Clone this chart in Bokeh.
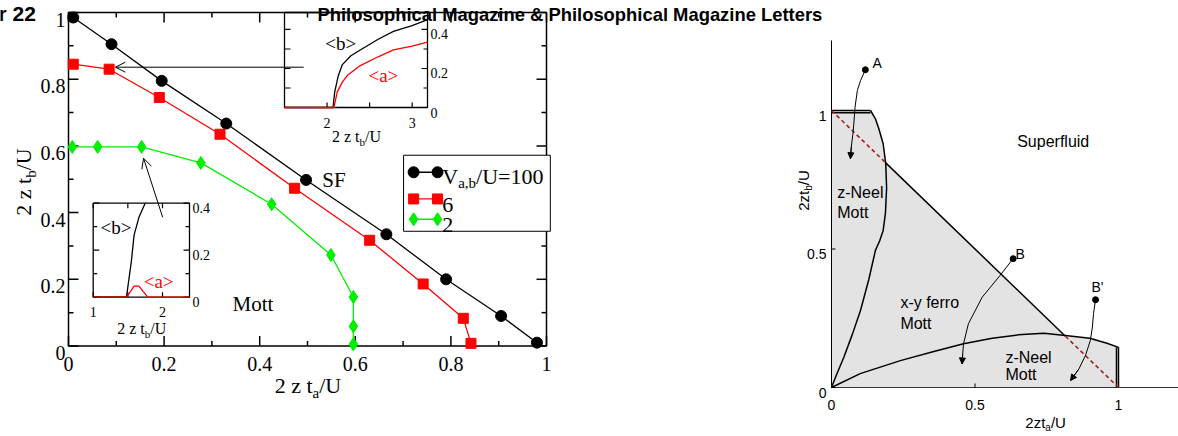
from bokeh.plotting import figure
from bokeh.models import Range1d, Label, Arrow, OpenHead, NormalHead
from bokeh.core.properties import value
from bokeh.embed import file_html
from bokeh.resources import INLINE

# ---------------- data: left panel (phase boundaries) ----------------
ta_100 = [0.01, 0.09, 0.195, 0.33, 0.497, 0.665, 0.79, 0.905, 0.98]
tb_100 = [0.985, 0.905, 0.795, 0.667, 0.498, 0.335, 0.2, 0.09, 0.01]
ta_6 = [0.01, 0.085, 0.19, 0.317, 0.473, 0.63, 0.742, 0.826, 0.842]
tb_6 = [0.845, 0.83, 0.745, 0.635, 0.473, 0.317, 0.186, 0.083, 0.008]
ta_2 = [0.008, 0.061, 0.153, 0.277, 0.425, 0.549, 0.596, 0.596, 0.596]
tb_2 = [0.597, 0.597, 0.597, 0.549, 0.425, 0.273, 0.147, 0.059, 0.005]
main_ticks = [0, 0.2, 0.4, 0.6, 0.8, 1]
main_tick_labels = ["0", "0.2", "0.4", "0.6", "0.8", "1"]
main_minor = [0.1, 0.3, 0.5, 0.7, 0.9]
legend_labels = ["100", "6", "2"]

# inset 1 (V=6): order parameters vs 2 z t_b/U
in1_xb = [1.5, 2.07, 2.09, 2.13, 2.18, 2.28, 2.39, 2.6, 2.78, 3.0, 3.18]
in1_b = [0, 0, 0.08, 0.16, 0.22, 0.265, 0.295, 0.35, 0.39, 0.42, 0.45]
in1_xa = [1.5, 2.08, 2.12, 2.18, 2.24, 2.39, 2.6, 2.78, 3.0, 3.18]
in1_a = [0, 0, 0.08, 0.13, 0.165, 0.215, 0.26, 0.295, 0.315, 0.335]
in1_xticks, in1_xlabels, in1_xminor = [2, 3], ["2", "3"], [2.5]
# inset 2 (V=2)
in2_xb = [1.0, 1.48, 1.55, 1.59, 1.66, 1.75]
in2_b = [0, 0, 0.15, 0.264, 0.34, 0.4]
in2_xa = [1.0, 1.48, 1.54, 1.59, 1.66, 1.72, 1.79, 2.39]
in2_a = [0, 0, 0.025, 0.047, 0.047, 0.025, 0, 0]
in2_xticks, in2_xlabels, in2_xminor = [1, 2], ["1", "2"], [1.5]
inset_yticks, inset_ylabels, inset_yminor = [0, 0.2, 0.4], ["0", "0.2", "0.4"], [0.1, 0.3]

# ---------------- data: right panel (schematic phase diagram) ----------------
fill_x = [0, 0, 0.136, 0.153, 0.165, 0.18, 0.189, 0.815, 0.9, 0.96, 1.0, 1.0]
fill_y = [0, 1.0, 1.0, 0.97, 0.934, 0.88, 0.811, 0.185, 0.178, 0.16, 0.145, 0]
left_x = [0, 0.015, 0.043, 0.072, 0.101, 0.13, 0.153, 0.168, 0.18, 0.188, 0.192, 0.189, 0.18, 0.165, 0.153, 0.136]
left_y = [0, 0.04, 0.109, 0.19, 0.278, 0.39, 0.495, 0.53, 0.567, 0.63, 0.72, 0.807, 0.88, 0.934, 0.97, 1.0]
low_x = [0, 0.1, 0.24, 0.35, 0.46, 0.56, 0.65, 0.74, 0.815, 0.9, 0.96, 1.0]
low_y = [0, 0.05, 0.097, 0.128, 0.158, 0.178, 0.19, 0.196, 0.188, 0.178, 0.16, 0.145]
diag_x, diag_y = [0.189, 0.815], [0.811, 0.185]
dash1_x, dash1_y = [0, 0.189], [1.0, 0.811]
dash2_x, dash2_y = [0.815, 1.0], [0.185, 0]
top_x, top_y1, top_y2 = [0, 0.136], [1.0, 1.0], [0.992, 0.992]
edge_y, edge_x1, edge_x2 = [0, 0.145], [1.0, 1.0], [0.993, 0.993]
pt_names = ["A", "B", "B'"]
pt_x = [0.118, 0.633, 0.92]
pt_y = [1.147, 0.465, 0.317]
arrA_x = [0.118, 0.101, 0.09, 0.082, 0.076, 0.069, 0.066]
arrA_y = [1.147, 1.108, 1.072, 1.012, 0.928, 0.868, 0.826]
arrB_x = [0.633, 0.61, 0.587, 0.525, 0.477, 0.46, 0.457, 0.455]
arrB_y = [0.465, 0.435, 0.404, 0.326, 0.23, 0.158, 0.12, 0.085]
arrC_x = [0.92, 0.913, 0.909, 0.902, 0.885, 0.862, 0.833]
arrC_y = [0.317, 0.267, 0.218, 0.17, 0.116, 0.067, 0.025]
right_ticks, right_tick_labels = [0, 0.5, 1], ["0", "0.5", "1"]
RX_MAX, RY_MAX = 1.209, 1.2527  # extent of the right panel's axes

# ---------------- layout (page pixels of each panel's calibration) ----------------
CANVAS_X = (0, 1178)   # page x of canvas left / right
CANVAS_Y = (436, 0)    # page y of canvas bottom / top
PANELS = {
    "default": dict(px=(68, 546), py=(345.5, 12), x=(0, 1), y=(0, 1)),
    "i1": dict(px=(284, 427), py=(107, 12), x=(1.5, 3.18), y=(0, 0.487)),
    "i2": dict(px=(92.7, 189), py=(296.7, 202.7), x=(1.0, 2.39), y=(0, 0.4)),
    "r": dict(px=(831, 1118), py=(387, 110), x=(0, 1), y=(0, 1)),
}


def prange(pg, d, c):
    k = (d[1] - d[0]) / (pg[1] - pg[0])
    return Range1d(d[0] + (c[0] - pg[0]) * k, d[0] + (c[1] - pg[0]) * k)


def kx(n):
    P = PANELS[n]
    return (P["px"][1] - P["px"][0]) / (P["x"][1] - P["x"][0])


def ky(n):
    P = PANELS[n]
    return (P["py"][0] - P["py"][1]) / (P["y"][1] - P["y"][0])


SERIF = "Liberation Serif"
SANS = "Liberation Sans"
TIMES_W = {'2': .5, ' ': .25, 'z': .444, 't': .278, '/': .278, 'U': .722, 'a': .444,
           'b': .5, ',': .25, 'V': .722, '=': .564, '1': .5, '0': .5}
ARIAL_W = {'2': .556, ' ': .278, 'z': .5, 't': .278, '/': .278, 'U': .722, 'a': .556, 'b': .556}


def rn(n):
    return dict(x_range_name=n, y_range_name=n)


def twidth(s, size, table):
    return sum(table.get(c, .55) for c in s) * size


def rich(fig, n, x, y, parts, font, size, table, angle=0.0, center=True, color="black"):
    sub = round(size * 0.68)
    widths = [twidth(t, sub if s else size, table) for t, s in parts]
    pos = -sum(widths) / 2 if center else 0
    for (t, s), w in zip(parts, widths):
        drop = size * 0.32 if s else 0
        xo, yo = (pos, -drop) if angle == 0 else (drop, pos)
        fig.add_layout(Label(x=x, y=y, x_offset=xo, y_offset=yo, text=t, text_font=font,
                             text_font_size=f"{sub if s else size}px", text_color=color,
                             angle=angle, text_align="left", text_baseline="alphabetic", **rn(n)))
        pos += w


def lab(fig, n, x, y, text, font, size, color="black", dx=0, dy=0, style="normal"):
    fig.add_layout(Label(x=x, y=y, x_offset=dx, y_offset=dy, text=text, text_font=font,
                         text_font_size=f"{size}px", text_color=color, text_font_style=style,
                         text_align="left", text_baseline="alphabetic", **rn(n)))


def ticks(fig, n, side, vals, length, lw):
    if not vals or length == 0:
        return
    P = PANELS[n]
    m = len(vals)
    if side in ("bottom", "top"):
        base = P["y"][0] if side == "bottom" else P["y"][1]
        d = length / ky(n) * (1 if side == "bottom" else -1)
        fig.segment(x0=vals, y0=[base] * m, x1=vals, y1=[base + d] * m,
                    line_color="black", line_width=lw, **rn(n))
    else:
        base = P["x"][0] if side == "left" else P["x"][1]
        d = length / kx(n) * (1 if side == "left" else -1)
        fig.segment(x0=[base] * m, y0=vals, x1=[base + d] * m, y1=vals,
                    line_color="black", line_width=lw, **rn(n))


def tick_text(fig, n, xs, ys, labels, font, size, align, dx, dy):
    fig.text(x=xs, y=ys, text=labels, text_align=align, text_baseline="alphabetic",
             x_offset=dx, y_offset=dy, text_font=value(font), text_font_size=value(f"{size}px"),
             text_color="black", **rn(n))


def frame_box(fig, n, lw):
    P = PANELS[n]
    fig.quad(left=P["x"][0], right=P["x"][1], bottom=P["y"][0], top=P["y"][1],
             fill_color=None, line_color="black", line_width=lw, **rn(n))


m = PANELS["default"]
p = figure(width=CANVAS_X[1] - CANVAS_X[0], height=CANVAS_Y[0] - CANVAS_Y[1],
           x_range=prange(m["px"], m["x"], CANVAS_X), y_range=prange(m["py"], m["y"], CANVAS_Y),
           x_axis_type=None, y_axis_type=None, min_border=0, outline_line_color=None,
           output_backend="svg", toolbar_location=None)
p.grid.visible = False
for name in ("i1", "i2", "r"):
    P = PANELS[name]
    p.extra_x_ranges[name] = prange(P["px"], P["x"], CANVAS_X)
    p.extra_y_ranges[name] = prange(P["py"], P["y"], CANVAS_Y)

# ======================= main left panel =======================
frame_box(p, "default", 1.5)
for side in ("bottom", "top", "left", "right"):
    ticks(p, "default", side, main_ticks, 10, 1.5)
    ticks(p, "default", side, main_minor, 5, 1.5)
tick_text(p, "default", main_ticks, [0] * 6, main_tick_labels, SERIF, 20, "center", 0, 17.5)
tick_text(p, "default", [0] * 6, main_ticks, main_tick_labels, SERIF, 20, "right", -3, 7)

series = [(ta_100, tb_100, "black", "circle", 11),
          (ta_6, tb_6, "#ff0000", "square", 10),
          (ta_2, tb_2, "#00ee00", "diamond", 13)]
for xs, ys, c, mk, s in series:
    p.line(xs, ys, line_color=c, line_width=1.3)
    p.scatter(xs, ys, marker=mk, size=s, fill_color=c, line_color=c)

lab(p, "default", 0.531, 0.497, "SF", SERIF, 21)
lab(p, "default", 0.343, 0.125, "Mott", SERIF, 21)

# legend
p.quad(left=0.701, right=1.008, top=0.572, bottom=0.344, fill_color="white",
       line_color="black", line_width=1)
leg_y = [0.521, 0.441, 0.38]
leg_base = [0.509, 0.422, 0.362]
for (xs, ys, c, mk, s), ly, lb, txt in zip(series, leg_y, leg_base, legend_labels):
    p.line([0.722, 0.772], [ly, ly], line_color=c, line_width=1.3)
    p.scatter([0.722, 0.772], [ly, ly], marker=mk, size=s, fill_color=c, line_color=c)
    if txt == legend_labels[0]:
        rich(p, "default", 0.782, lb, [("V", False), ("a,b", True), ("/U=" + txt, False)],
             SERIF, 22, TIMES_W, center=False)
    else:
        lab(p, "default", 0.782, lb, txt, SERIF, 22)

rich(p, "default", 0.501, -0.1184, [("2 z t", False), ("a", True), ("/U", False)], SERIF, 22, TIMES_W)
rich(p, "default", -0.0941, 0.4918, [("2 z t", False), ("b", True), ("/U", False)], SERIF, 22,
     TIMES_W, angle=1.5707963)

# page header (cropped journal running head)
lab(p, "default", 0, 1, "r 22", SANS, 21, dx=-70, dy=-1, style="bold")
lab(p, "default", 0, 1, "Philosophical Magazine & Philosophical Magazine Letters", SANS, 18.4,
    dx=249, dy=-2, style="bold")

# ======================= insets =======================
frame_box(p, "i1", 1.3)
ticks(p, "i1", "left", inset_yticks + inset_yminor, 6, 1.2)
ticks(p, "i1", "right", inset_yticks, 6, 1.2)
ticks(p, "i1", "right", inset_yminor, 4, 1.2)
ticks(p, "i1", "bottom", in1_xticks + in1_xminor, 5, 1.2)
tick_text(p, "i1", [PANELS["i1"]["x"][1]] * 3, inset_yticks, inset_ylabels, SERIF, 14, "left", 3, 5)
tick_text(p, "i1", in1_xticks, [0, 0], in1_xlabels, SERIF, 14, "center", 0, 15)
p.line(in1_xb, in1_b, line_color="black", line_width=1.3, **rn("i1"))
p.line(in1_xa, in1_a, line_color="#ff0000", line_width=1.3, **rn("i1"))
lab(p, "i1", 1.98, 0.328, "<b>", SERIF, 19)
lab(p, "i1", 2.486, 0.164, "<a>", SERIF, 19, color="#ff0000")
rich(p, "i1", 2.345, -0.149, [("2 z t", False), ("b", True), ("/U", False)], SERIF, 16, TIMES_W)

frame_box(p, "i2", 1.3)
for side in ("left", "right"):
    ticks(p, "i2", side, inset_yticks, 6, 1.2)
    ticks(p, "i2", side, inset_yminor, 4, 1.2)
for side in ("bottom", "top"):
    ticks(p, "i2", side, in2_xticks + in2_xminor, 5, 1.2)
tick_text(p, "i2", [PANELS["i2"]["x"][1]] * 3, inset_yticks, inset_ylabels, SERIF, 14, "left", 3, 5)
tick_text(p, "i2", in2_xticks, [0, 0], in2_xlabels, SERIF, 14, "center", 0, 15)
p.line(in2_xb, in2_b, line_color="black", line_width=1.3, **rn("i2"))
p.line(in2_xa, in2_a, line_color="#ff0000", line_width=1.3, **rn("i2"))
lab(p, "i2", 1.106, 0.297, "<b>", SERIF, 19)
lab(p, "i2", 1.729, 0.067, "<a>", SERIF, 19, color="#ff0000")
rich(p, "i2", 1.70, -0.133, [("2 z t", False), ("b", True), ("/U", False)], SERIF, 16, TIMES_W)

# arrows from insets to the curves
p.add_layout(Arrow(end=OpenHead(size=10, line_width=1), x_start=0.492, y_start=0.836,
                   x_end=0.098, y_end=0.836, line_width=1))
p.add_layout(Arrow(end=OpenHead(size=10, line_width=1), x_start=0.197, y_start=0.386,
                   x_end=0.157, y_end=0.563, line_width=1))

# ======================= right panel =======================
R = rn("r")
p.patch(fill_x, fill_y, fill_color="#e3e3e3", line_color=None, **R)
p.line([0, 0], [0, RY_MAX], line_color="black", line_width=1, **R)
p.line([0, RX_MAX], [0, 0], line_color="#333333", line_width=1.2, **R)
ticks(p, "r", "left", right_ticks, 4, 1)
ticks(p, "r", "bottom", right_ticks, 4, 1)
tick_text(p, "r", [0] * 3, right_ticks, right_tick_labels, SANS, 14, "right", -5, 5)
tick_text(p, "r", right_ticks, [0] * 3, right_tick_labels, SANS, 14, "center", 0, 17)
for xs, ys in [(left_x, left_y), (low_x, low_y), (diag_x, diag_y), (top_x, top_y1),
               (top_x, top_y2), (edge_x1, edge_y), (edge_x2, edge_y)]:
    p.line(xs, ys, line_color="black", line_width=1.5, **R)
for xs, ys in [(dash1_x, dash1_y), (dash2_x, dash2_y)]:
    p.line(xs, ys, line_color="#a82020", line_width=1.6, line_dash="4 3", **R)
for xs, ys in [(arrA_x, arrA_y), (arrB_x, arrB_y), (arrC_x, arrC_y)]:
    p.line(xs, ys, line_color="black", line_width=1, **R)
    p.add_layout(Arrow(end=NormalHead(size=6, fill_color="black", line_color="black"),
                       x_start=xs[-2], y_start=ys[-2], x_end=xs[-1], y_end=ys[-1],
                       line_width=1, x_range_name="r", y_range_name="r"))
p.scatter(pt_x, pt_y, size=6, color="black", **R)
for name, lx, ly in zip(pt_names, [0.143, 0.641, 0.906], [1.17, 0.483, 0.362]):
    lab(p, "r", lx, ly, name, SANS, 14)

lab(p, "r", 0.647, 0.888, "Superfluid", SANS, 16)
lab(p, "r", 0.02, 0.705, "z-Neel", SANS, 16)
lab(p, "r", 0.02, 0.633, "Mott", SANS, 16)
lab(p, "r", 0.24, 0.307, "x-y ferro", SANS, 16)
lab(p, "r", 0.24, 0.232, "Mott", SANS, 16)
lab(p, "r", 0.606, 0.109, "z-Neel", SANS, 16)
lab(p, "r", 0.606, 0.047, "Mott", SANS, 16)
rich(p, "r", 0.746, -0.128, [("2zt", False), ("a", True), ("/U", False)], SANS, 15, ARIAL_W)
rich(p, "r", -0.0976, 0.711, [("2zt", False), ("b", True), ("/U", False)], SANS, 15, ARIAL_W,
     angle=1.5707963)

open("out.html", "w").write(file_html(p, INLINE))
